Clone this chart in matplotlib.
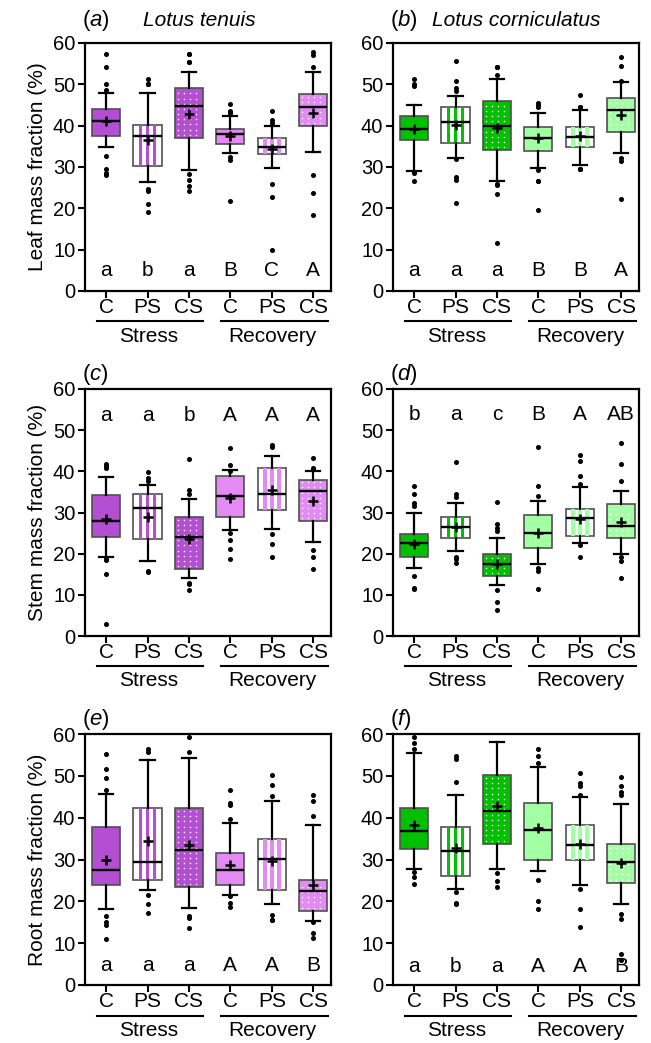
import numpy as np
import matplotlib
matplotlib.use("Agg")
import matplotlib.pyplot as plt
from matplotlib.patches import Rectangle
import matplotlib.transforms as mtransforms

plt.rcParams["font.family"] = ["Liberation Sans", "DejaVu Sans"]
plt.rcParams["mathtext.fontset"] = "custom"
plt.rcParams["mathtext.rm"] = "Liberation Sans"
plt.rcParams["mathtext.it"] = "Liberation Sans:italic"

CATS = ["C", "PS", "CS", "C", "PS", "CS"]
GROUPS = ["Stress", "Recovery"]
PATTERNS = ["solid", "stripes", "dots", "solid", "stripes", "dots"]

# box stats per treatment: (whisker low, q1, median, q3, whisker high, mean)
a_box = [(34.9, 37.5, 41.2, 44.0, 48.0, 41.2), (26.3, 30.2, 37.5, 40.2, 48.0, 36.5),
         (29.2, 37.1, 44.8, 49.2, 53.1, 42.8), (33.4, 35.5, 38.1, 39.3, 42.4, 37.5),
         (29.8, 33.1, 34.9, 37.1, 40.0, 34.3), (33.7, 40.0, 44.4, 47.6, 52.9, 43.0)]
a_fliers = [[57.3, 54.1, 50.1, 48.7, 32.6, 29.4, 28.6, 28.0],
            [51.3, 50.1, 50.1, 50.1, 24.2, 24.6, 21.1, 19.1],
            [57.3, 57.3, 55.3, 55.3, 28.4, 26.8, 25.5, 24.1],
            [45.3, 43.6, 43.0, 43.2, 32.4, 31.6, 21.8],
            [43.6, 41.4, 40.6, 26.0, 22.7, 10.0],
            [57.8, 57.2, 54.3, 28.0, 23.7, 18.4]]
a_letters = ["a", "b", "a", "B", "C", "A"]

b_box = [(29.1, 36.6, 39.1, 42.3, 45.1, 39.1), (32.2, 35.8, 41.0, 44.5, 47.2, 40.2),
         (26.7, 34.1, 40.0, 45.9, 51.3, 39.4), (29.7, 33.8, 36.9, 39.7, 43.1, 36.9),
         (30.6, 34.9, 37.2, 39.6, 43.9, 37.4), (33.3, 38.5, 43.7, 46.6, 50.5, 42.7)]
b_fliers = [[51.3, 50.1, 49.7, 28.7, 28.5, 26.5],
            [55.6, 50.9, 49.2, 48.5, 31.9, 27.7, 26.9, 21.3],
            [54.3, 54.3, 54.3, 52.2, 25.9, 25.6, 23.5, 11.6],
            [45.5, 45.0, 44.4, 29.3, 26.7, 26.7, 19.6],
            [47.3, 44.5, 44.5, 29.5, 29.5, 29.5, 29.5],
            [56.7, 54.5, 50.8, 32.2, 31.4, 22.2]]
b_letters = ["a", "a", "a", "B", "B", "A"]

c_box = [(19.2, 24.1, 28.0, 34.3, 38.6, 28.4), (18.1, 23.6, 31.2, 34.5, 36.7, 29.0),
         (14.0, 16.3, 24.0, 29.0, 33.3, 23.5), (25.7, 28.8, 34.1, 38.9, 40.4, 33.5),
         (26.0, 30.6, 34.5, 40.8, 43.7, 35.5), (22.9, 27.9, 35.3, 37.8, 40.0, 32.8)]
c_fliers = [[41.9, 40.8, 41.2, 18.5, 18.8, 15.1, 2.9],
            [39.8, 38.4, 37.6, 15.5, 15.7],
            [42.9, 35.5, 34.5, 12.7, 12.9, 11.2],
            [45.6, 41.6, 40.2, 25.1, 23.3, 21.2, 18.8],
            [46.5, 46.0, 24.7, 22.4, 19.2],
            [43.3, 40.8, 40.6, 21.0, 19.3, 16.2]]
c_letters = ["a", "a", "b", "A", "A", "A"]

d_box = [(16.5, 19.1, 22.6, 24.7, 29.8, 22.3), (20.7, 23.9, 26.4, 28.9, 32.4, 26.5),
         (12.4, 14.5, 17.5, 19.9, 23.7, 17.5), (17.5, 21.3, 25.1, 29.3, 32.9, 25.1),
         (22.6, 24.4, 28.7, 30.8, 36.2, 28.5), (19.9, 23.9, 26.6, 32.0, 35.3, 27.6)]
d_fliers = [[36.4, 34.5, 32.2, 31.7, 14.5, 11.6, 11.4],
            [42.2, 34.4, 33.7, 19.3, 18.7, 17.7],
            [32.6, 27.3, 26.3, 25.5, 11.1, 8.3, 6.3],
            [45.9, 36.5, 34.0, 16.6, 15.9, 11.5],
            [43.9, 42.4, 38.8, 36.9, 22.1, 19.3],
            [47.0, 41.9, 37.6, 19.3, 18.1, 14.2]]
d_letters = ["b", "a", "c", "B", "A", "AB"]

e_box = [(18.2, 23.8, 27.6, 37.8, 45.6, 30.0), (22.6, 25.0, 29.5, 42.2, 53.8, 34.4),
         (18.5, 23.4, 32.2, 42.2, 54.2, 33.4), (21.4, 23.8, 27.4, 31.5, 38.8, 28.6),
         (19.4, 22.7, 30.2, 34.8, 44.0, 29.6), (15.4, 17.8, 22.4, 25.0, 38.2, 23.8)]
e_fliers = [[55.1, 51.6, 49.4, 46.6, 16.4, 15.0, 14.4, 11.0],
            [56.4, 55.6, 21.4, 19.4, 17.2],
            [59.4, 55.8, 16.4, 16.0, 13.6],
            [46.6, 43.6, 43.0, 39.8, 21.2, 19.6, 18.6],
            [50.2, 47.8, 45.2, 16.8, 15.6, 15.6],
            [45.4, 44.0, 40.4, 15.0, 12.4, 11.2]]
e_letters = ["a", "a", "a", "A", "A", "B"]

f_box = [(27.7, 32.4, 36.8, 42.2, 55.5, 38.2), (22.9, 26.1, 32.0, 37.8, 45.3, 32.7),
         (27.7, 33.8, 41.6, 50.2, 58.1, 42.8), (27.2, 29.8, 37.0, 43.4, 52.1, 37.5),
         (23.9, 29.8, 33.4, 38.2, 44.9, 33.6), (19.3, 24.5, 29.4, 33.8, 43.3, 29.1)]
f_fliers = [[59.2, 57.9, 56.3, 26.9, 25.9, 24.1],
            [54.7, 54.1, 48.5, 22.3, 19.3, 19.5],
            [26.7, 24.9, 23.5],
            [56.5, 54.7, 53.1, 25.1, 20.0, 18.1],
            [50.6, 48.3, 47.5, 45.3, 22.9, 18.1, 13.8],
            [49.8, 47.5, 46.1, 45.3, 16.9, 15.7, 7.4, 6.0]]
f_letters = ["a", "b", "a", "A", "A", "B"]

PURPLE = ("#b44fd4", "#e38af5")
GREEN = ("#00c000", "#a3ffa3")

PANELS = [
    ("a", "Lotus tenuis", "Leaf mass fraction (%)", a_box, a_fliers, a_letters, PURPLE, 5.0),
    ("b", "Lotus corniculatus", None, b_box, b_fliers, b_letters, GREEN, 5.0),
    ("c", None, "Stem mass fraction (%)", c_box, c_fliers, c_letters, PURPLE, 53.5),
    ("d", None, None, d_box, d_fliers, d_letters, GREEN, 53.8),
    ("e", None, "Root mass fraction (%)", e_box, e_fliers, e_letters, PURPLE, 4.6),
    ("f", None, None, f_box, f_fliers, f_letters, GREEN, 4.4),
]

W, H = 651, 1043
LEFTS = [85, 393]
ROWS = [(43, 291), (389, 636), (734, 985)]
AX_W = 246
BOX_W = 0.68
FS = 15


def draw_panel(ax, box, fliers, letters, colors, letter_y):
    pos = np.arange(1, len(box) + 1)
    stats = []
    for (lo, q1, med, q3, hi, mean), fl in zip(box, fliers):
        stats.append(dict(whislo=lo, q1=q1, med=med, q3=q3, whishi=hi,
                          mean=mean, fliers=fl))
    res = ax.bxp(stats, positions=pos, widths=BOX_W, capwidths=0.34,
                 patch_artist=True, showmeans=True, manage_ticks=False,
                 boxprops=dict(edgecolor="#505050", linewidth=1.2),
                 whiskerprops=dict(color="black", linewidth=1.6),
                 capprops=dict(color="black", linewidth=1.6),
                 medianprops=dict(color="black", linewidth=1.7),
                 meanprops=dict(marker="+", markeredgecolor="black",
                                markersize=6.5, markeredgewidth=1.8),
                 flierprops=dict(marker="o", markerfacecolor="black",
                                 markeredgecolor="black", markersize=2.6))
    for i, patch in enumerate(res["boxes"]):
        col = colors[0] if i < 3 else colors[1]
        patch.set_zorder(1)
        lo, q1, med, q3, hi, mean = box[i]
        x0 = pos[i] - BOX_W / 2
        if PATTERNS[i] == "stripes":
            patch.set_facecolor("white")
            for frac in (0.25, 0.5, 0.75):
                sw = BOX_W * 0.13
                ax.add_patch(Rectangle((x0 + frac * BOX_W - sw / 2, q1), sw, q3 - q1,
                                       facecolor=col, edgecolor="none", zorder=1.5))
        else:
            patch.set_facecolor(col)
            if PATTERNS[i] == "dots":
                xs = np.arange(x0 + 0.08, x0 + BOX_W - 0.03, 0.145)
                ys = np.arange(q1 + 0.7, q3 - 0.3, 1.25)
                gx, gy = np.meshgrid(xs, ys)
                ax.scatter(gx.ravel(), gy.ravel(), s=1.3, c="white",
                           linewidths=0, zorder=1.5)
    for p, lab in zip(pos, letters):
        ax.text(p, letter_y, lab, ha="center", va="center", fontsize=FS)


fig = plt.figure(figsize=(W / 100, H / 100), dpi=100)

for k, (tag, species, ylabel, box, fliers, letters, colors, letter_y) in enumerate(PANELS):
    row, col = divmod(k, 2)
    top, bot = ROWS[row]
    ax = fig.add_axes([LEFTS[col] / W, 1 - bot / H, AX_W / W, (bot - top) / H])
    draw_panel(ax, box, fliers, letters, colors, letter_y)

    ax.set_xlim(0.49, 6.43)
    ax.set_ylim(0, 60)
    ax.set_yticks(np.arange(0, 61, 10))
    ax.set_xticks(np.arange(1, 7))
    ax.set_xticklabels(CATS)
    ax.tick_params(axis="y", labelsize=14.5, width=1.5, length=5, pad=2)
    ax.tick_params(axis="x", labelsize=FS, width=1.5, length=5, pad=0)
    for sp in ax.spines.values():
        sp.set_linewidth(1.6)
    if ylabel:
        ax.set_ylabel(ylabel, fontsize=FS, labelpad=4)

    # group underlines and labels below the tick labels
    trans = mtransforms.blended_transform_factory(ax.transData, ax.transAxes)
    for g, name in enumerate(GROUPS):
        start = 1 + 3 * g
        ax.plot([start - 0.22, start + 2.35], [-0.122, -0.122], color="black",
                lw=1.5, transform=trans, clip_on=False)
        ax.text(start + 1.02, -0.182, name, transform=trans, ha="center",
                va="center", fontsize=FS)

    title_y = 1.092 if row == 0 else 1.058
    ax.text(-0.012, title_y, "($\\it{%s}$)" % tag, transform=ax.transAxes,
            ha="left", va="center", fontsize=16)
    if species:
        ax.text(0.235 if col == 0 else 0.16, title_y, species, transform=ax.transAxes,
                ha="left", va="center", fontsize=FS, style="italic")

fig.savefig("out.png", dpi=100)
